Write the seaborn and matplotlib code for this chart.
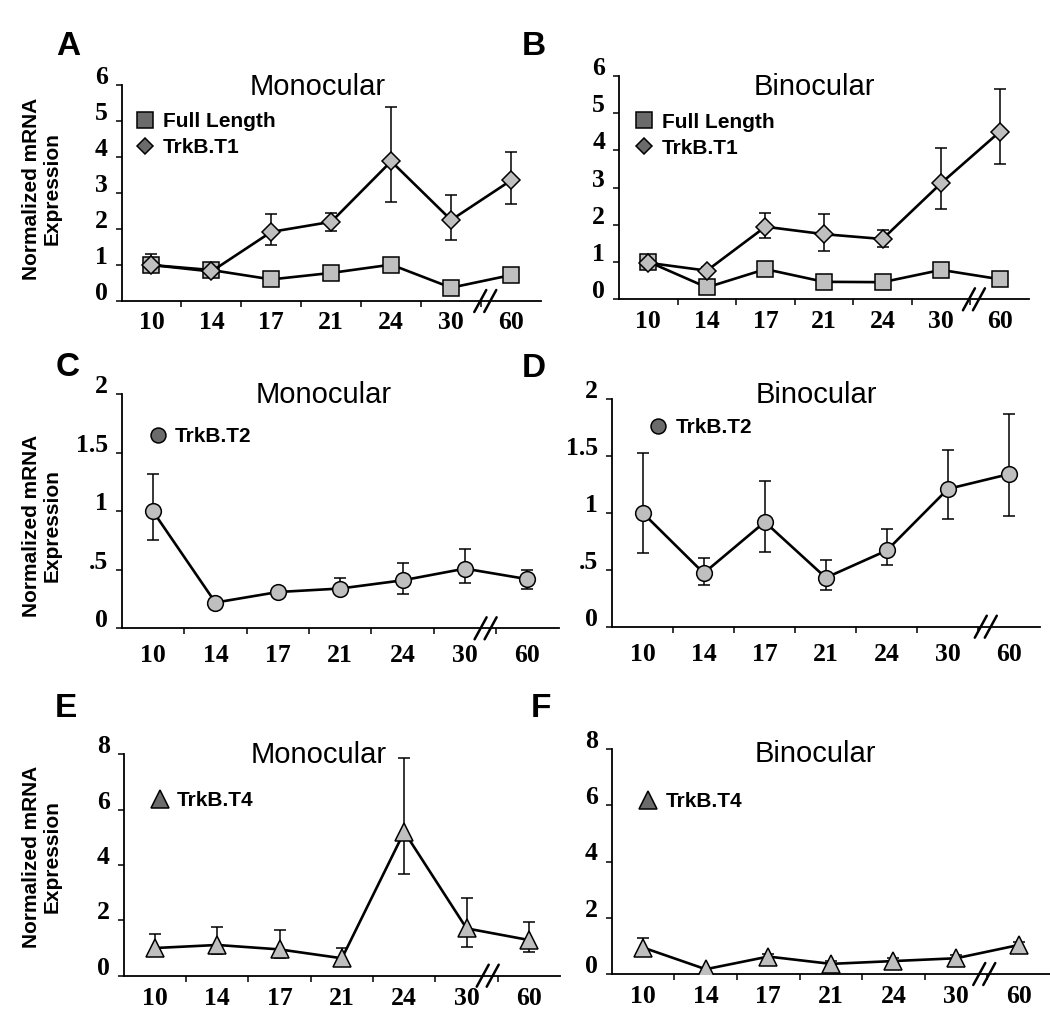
import numpy as np
import pandas as pd
import matplotlib
matplotlib.use("Agg")
import matplotlib.pyplot as plt
import seaborn as sns
from matplotlib.lines import Line2D
from matplotlib.transforms import ScaledTranslation

sns.set_theme(style="white")
plt.rcParams["font.family"] = ["Liberation Sans", "DejaVu Sans"]
plt.rcParams["text.color"] = "black"

# ---------------- data ----------------
days = ["10", "14", "17", "21", "24", "30", "60"]

# Panel A: Monocular, Full Length + TrkB.T1
mono_fl = [1.00, 0.86, 0.60, 0.78, 1.01, 0.37, 0.72]
mono_fl_lo = [0.08, 0.08, 0.08, 0.08, 0.08, 0.08, 0.08]
mono_fl_hi = [0.08, 0.08, 0.08, 0.08, 0.08, 0.08, 0.08]
mono_t1 = [1.00, 0.82, 1.92, 2.20, 3.88, 2.25, 3.35]
mono_t1_lo = [0.15, 0.10, 0.37, 0.25, 1.14, 0.55, 0.65]
mono_t1_hi = [0.30, 0.10, 0.50, 0.25, 1.52, 0.70, 0.80]

# Panel B: Binocular, Full Length + TrkB.T1
bino_fl = [1.01, 0.32, 0.81, 0.47, 0.46, 0.79, 0.54]
bino_fl_lo = [0.08, 0.08, 0.08, 0.08, 0.08, 0.08, 0.08]
bino_fl_hi = [0.08, 0.08, 0.08, 0.08, 0.08, 0.08, 0.08]
bino_t1 = [0.98, 0.77, 1.95, 1.75, 1.62, 3.12, 4.50]
bino_t1_lo = [0.10, 0.10, 0.31, 0.45, 0.21, 0.70, 0.87]
bino_t1_hi = [0.10, 0.10, 0.36, 0.53, 0.24, 0.94, 1.15]

# Panel C: Monocular TrkB.T2
mono_t2 = [1.00, 0.22, 0.31, 0.34, 0.41, 0.51, 0.42]
mono_t2_lo = [0.245, 0.03, 0.03, 0.03, 0.12, 0.125, 0.08]
mono_t2_hi = [0.32, 0.03, 0.03, 0.09, 0.15, 0.17, 0.08]

# Panel D: Binocular TrkB.T2
bino_t2 = [1.00, 0.47, 0.92, 0.43, 0.67, 1.21, 1.34]
bino_t2_lo = [0.35, 0.10, 0.26, 0.11, 0.13, 0.26, 0.37]
bino_t2_hi = [0.53, 0.13, 0.36, 0.16, 0.19, 0.34, 0.53]

# Panel E: Monocular TrkB.T4
mono_t4 = [1.00, 1.11, 0.95, 0.63, 5.20, 1.71, 1.29]
mono_t4_lo = [0.30, 0.31, 0.30, 0.20, 1.54, 0.66, 0.42]
mono_t4_hi = [0.50, 0.66, 0.70, 0.36, 2.68, 1.09, 0.66]

# Panel F: Binocular TrkB.T4
bino_t4 = [0.94, 0.17, 0.62, 0.36, 0.46, 0.56, 1.03]
bino_t4_lo = [0.10, 0.05, 0.10, 0.10, 0.10, 0.10, 0.10]
bino_t4_hi = [0.35, 0.05, 0.10, 0.10, 0.10, 0.10, 0.10]

yt_ab = [0, 1, 2, 3, 4, 5, 6]
yl_ab = ["0", "1", "2", "3", "4", "5", "6"]
yt_cd = [0, 0.5, 1, 1.5, 2]
yl_cd = ["0", ".5", "1", "1.5", "2"]
yt_ef = [0, 2, 4, 6, 8]
yl_ef = ["0", "2", "4", "6", "8"]

# ---------------- figure ----------------
W, H = 1050, 1036
fig = plt.figure(figsize=(W / 100, H / 100), dpi=100)
fig.patch.set_facecolor("white")

FACE = "#bfbfbf"
LEGFACE = "#6b6b6b"


def px_axes(left, right, top, bottom):
    return fig.add_axes([left / W, 1 - bottom / H, (right - left) / W, (bottom - top) / H])


def fx(px):
    return px / W


def fy(py):
    return 1 - py / H


def panel(box, series, ylim, yt, yl, title, title_xy, legend_xy, xpad, brk_x, letter, letter_xy):
    ax = px_axes(*box)
    x = np.arange(len(days))
    for vals, lo, hi, mk, ms, lab in series:
        df = pd.DataFrame({"pos": x, "value": vals})
        ax.errorbar(df["pos"], df["value"], yerr=[lo, hi], fmt="none", ecolor="black",
                    elinewidth=1.1, capsize=4, capthick=1.1, zorder=2)
        sns.lineplot(data=df, x="pos", y="value", ax=ax, color="black", lw=1.9,
                     marker=mk, markersize=ms, markerfacecolor=FACE,
                     markeredgecolor="black", markeredgewidth=1.1, zorder=3,
                     legend=False, errorbar=None)
    ax.set_xlabel("")
    ax.set_ylabel("")
    ax.set_xlim(-0.5, len(days) - 0.5)
    ax.set_ylim(*ylim)
    ax.set_xticks(x)
    ax.set_xticklabels(days)
    ax.set_xticks(np.arange(0.5, len(days) - 0.5, 1), minor=True)
    ax.set_yticks(yt)
    ax.set_yticklabels(yl)
    ax.tick_params(axis="x", which="major", length=0, pad=xpad, bottom=True)
    ax.tick_params(axis="x", which="minor", length=4, width=1.1, color="black",
                   direction="out", bottom=True)
    ax.tick_params(axis="y", which="major", length=4, width=1.1, color="black",
                   direction="out", left=True, pad=6.0)
    for lab in ax.get_xticklabels() + ax.get_yticklabels():
        lab.set_fontfamily("Liberation Serif")
        lab.set_fontweight("bold")
        lab.set_fontsize(18.5)
        lab.set_color("black")
    off = ScaledTranslation(0, 10 / 100, fig.dpi_scale_trans)
    for lab in ax.get_yticklabels():
        lab.set_transform(lab.get_transform() + off)
    for s in ["top", "right"]:
        ax.spines[s].set_visible(False)
    for s in ["left", "bottom"]:
        ax.spines[s].set_color("black")
        ax.spines[s].set_linewidth(1.3)
    ax.set_facecolor("white")
    ax.grid(False)

    # axis break marks "//"
    wpx = box[1] - box[0]
    hpx = box[3] - box[2]
    cx = (brk_x + 0.5) / len(days)
    for d in (-5, 5):
        c = cx + d / wpx
        ax.add_line(Line2D([c - 6 / wpx, c + 6 / wpx], [-11 / hpx, 11 / hpx],
                           transform=ax.transAxes, color="black", lw=1.8, clip_on=False))

    # title
    fig.text(fx(title_xy[0]), fy(title_xy[1]), title, ha="center", va="baseline",
             fontsize=21, color="black")
    # panel letter
    fig.text(fx(letter_xy[0]), fy(letter_xy[1]), letter, ha="center", va="baseline",
             fontsize=24, fontweight="bold", color="black")

    # legend
    handles = [Line2D([], [], linestyle="none", marker=s[3], markersize=s[4] * 0.95,
                      markerfacecolor=LEGFACE, markeredgecolor="black", markeredgewidth=1.1)
               for s in series]
    labels = [s[5] for s in series]
    leg = ax.legend(handles, labels, loc="upper left",
                    bbox_to_anchor=(fx(legend_xy[0]), fy(legend_xy[1])),
                    bbox_transform=fig.transFigure, frameon=False, borderpad=0,
                    borderaxespad=0, handlelength=0.8, handletextpad=0.45,
                    labelspacing=0.34,
                    prop={"family": "Liberation Sans", "weight": "bold", "size": 15})
    for t in leg.get_texts():
        t.set_color("black")
    return ax


panel((121.5, 541, 85, 301),
      [(mono_fl, mono_fl_lo, mono_fl_hi, "s", 12, "Full Length"),
       (mono_t1, mono_t1_lo, mono_t1_hi, "D", 9, "TrkB.T1")],
      (0, 6), yt_ab, yl_ab, "Monocular", (317.5, 95), (136.7, 112), 7.2, 5.57, "A", (68, 55))

panel((619, 1029, 76, 299.3),
      [(bino_fl, bino_fl_lo, bino_fl_hi, "s", 12, "Full Length"),
       (bino_t1, bino_t1_lo, bino_t1_hi, "D", 9, "TrkB.T1")],
      (0, 6), yt_ab, yl_ab, "Binocular", (814.5, 95), (636, 112.7), 8.0, 5.56, "B", (534, 55))

panel((121.8, 558.6, 394.3, 628.3),
      [(mono_t2, mono_t2_lo, mono_t2_hi, "o", 11.3, "TrkB.T2")],
      (0, 2), yt_cd, yl_cd, "Monocular", (323.3, 403), (149.2, 427), 11.5, 5.33, "C", (68, 376))

panel((612.2, 1039.5, 399, 626.7),
      [(bino_t2, bino_t2_lo, bino_t2_hi, "o", 11.3, "TrkB.T2")],
      (0, 2), yt_cd, yl_cd, "Binocular", (816.7, 403), (649.7, 418), 11.5, 5.62, "D", (534, 377))

panel((123.8, 560, 754.3, 975.7),
      [(mono_t4, mono_t4_lo, mono_t4_hi, "^", 13, "TrkB.T4")],
      (0, 8), yt_ef, yl_ef, "Monocular", (319, 762.7), (151.2, 791), 8.0, 5.34, "E", (66, 717))

panel((611.8, 1050, 749, 974),
      [(bino_t4, bino_t4_lo, bino_t4_hi, "^", 13, "TrkB.T4")],
      (0, 8), yt_ef, yl_ef, "Binocular", (815, 761.7), (639.5, 792), 8.0, 5.45, "F", (541, 717))

# shared y labels (left column)
for ycen in (188.5, 525.6, 856.5):
    fig.text(fx(42), fy(ycen), "Normalized mRNA\nExpression", rotation=90,
             ha="center", va="center", multialignment="center",
             fontsize=15, fontweight="bold", color="black", linespacing=1.15)

fig.savefig("out.png", dpi=100, facecolor="white")
